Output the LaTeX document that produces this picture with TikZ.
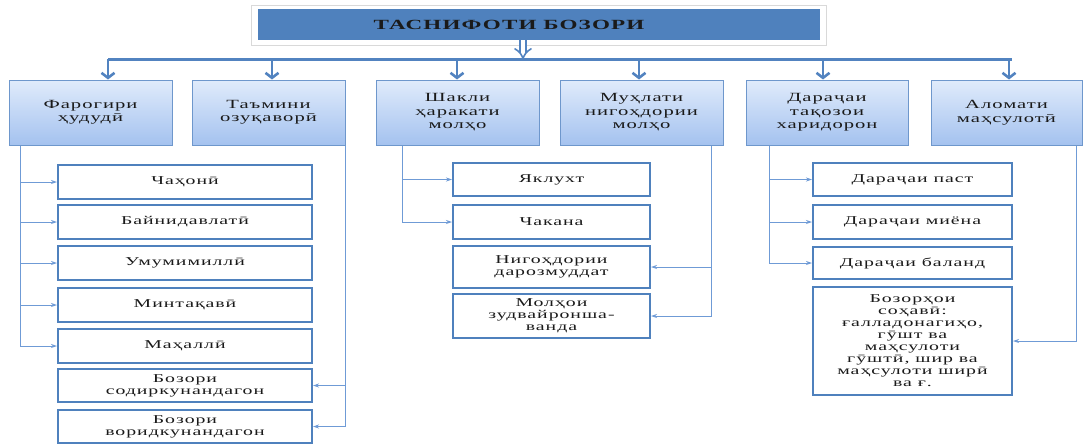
\documentclass[tikz,border=0pt]{standalone}
\usepackage{fontspec}
\setmainfont{Liberation Serif}
\newfontfamily\boxfont[FakeStretch=1.65,LetterSpace=8]{Liberation Serif}
\usetikzlibrary{arrows.meta,positioning}
\definecolor{Bar}{HTML}{5283C0}
\definecolor{Link}{HTML}{6F9BD6}
\definecolor{Edge}{HTML}{6E97CC}
\definecolor{TopHi}{HTML}{E0EBFB}
\definecolor{TopLo}{HTML}{A4C2EF}
\definecolor{Frame}{HTML}{4F81BD}
\definecolor{Ink}{HTML}{1A1A1A}
\tikzset{
  headbox/.style={draw=Edge,line width=1pt,top color=TopHi,bottom color=TopLo,
    minimum height=65pt,align=center,inner sep=1pt,text=Ink,
    font={\boxfont\fontsize{12.5}{13.5}\selectfont}},
  subbox/.style={draw=Frame,line width=2pt,fill=white,align=center,inner sep=1pt,
    text=Ink,font={\boxfont\fontsize{12}{12}\selectfont}},
  link/.style={draw=Link,line width=0.9pt,-{Stealth[length=6pt,width=4pt]}},
  drop/.style={draw=Bar,line width=2.6pt,-{Straight Barb[length=5pt,width=13pt]}}
}
\begin{document}
\begin{tikzpicture}[x=1pt,y=-1pt]
  \useasboundingbox (0,0) rectangle (1084,445);
  % title
  \draw[gray!30,fill=white] (251,5) rectangle (826,45);
  \node[fill=Frame,minimum width=562,minimum height=31,inner sep=0] (title) at (539,24.5) {};
  \node[font={\boxfont\bfseries\fontsize{14}{14}\selectfont},text=Ink] (titletxt) at (509,25) {ТАСНИФОТИ БОЗОРИ};
  \coordinate (barL) at (108,59);
  \coordinate (barR) at (1012,59);
  \draw[Bar,line width=3pt] (barL) -- (barR);
  \draw[draw=Bar,line width=1.6pt,double=white,double distance=4.5pt,-{Implies}] ([xshift=-16pt]title.south) -- ([xshift=-16pt,yshift=-1pt]title.south |- barL);
  % top row
  \foreach \n/\x/\w/\ax/\txt in {
    A/90.5/163/108/{Фарогири\\ҳудудӣ},
    B/268.5/153/272/{Таъмини\\озуқаворӣ},
    C/457.5/163/457/{Шакли\\ҳаракати\\молҳо},
    D/641.5/163/639/{Муҳлати\\нигоҳдории\\молҳо},
    E/827/162/823/{Дараҷаи\\тақозои\\харидорон},
    F/1006.5/151/1009/{Аломати\\маҳсулотӣ}} {
    \node[headbox,minimum width=\w] (t\n) at (\x,112.5) {\txt};
    \coordinate (b\n) at (\ax,59);
    \draw[drop] (b\n) -- (b\n |- t\n.north);
  }
  % left column
  \foreach \n/\y/\h/\txt in {
    1/182/34/{Чаҳонӣ},
    2/222/34/{Байнидавлатӣ},
    3/263/34/{Умумимиллӣ},
    4/305/34/{Минтақавӣ},
    5/346/34/{Маҳаллӣ},
    6/385.5/33/{Бозори\\содиркунандагон},
    7/426.5/33/{Бозори\\воридкунандагон}}
    \node[subbox,minimum width=254,minimum height=\h] (l\n) at (185,\y) {\txt};
  % middle column
  \foreach \n/\y/\h/\txt in {
    1/179.5/33/{Яклухт},
    2/222/34/{Чакана},
    3/267/42/{Нигоҳдории\\дарозмуддат},
    4/316/44/{Молҳои\\зудвайронша-\\ванда}}
    \node[subbox,minimum width=197,minimum height=\h] (m\n) at (551.5,\y) {\txt};
  % right column
  \foreach \n/\y/\h/\txt in {
    1/179.5/33/{Дараҷаи паст},
    2/222/34/{Дараҷаи миёна},
    3/263/32/{Дараҷаи баланд},
    4/341/108/{Бозорҳои\\соҳавӣ:\\ғалладонагиҳо,\\гӯшт ва\\маҳсулоти\\гӯштӣ, шир ва\\маҳсулоти ширӣ\\ва ғ.}}
    \node[subbox,minimum width=199,minimum height=\h] (r\n) at (912.5,\y) {\txt};
  % links
  \coordinate (lA) at ([xshift=12pt]tA.south west);
  \coordinate (lB) at (tB.south east);
  \coordinate (lC) at ([xshift=27pt]tC.south west);
  \coordinate (lD) at ([xshift=-12pt]tD.south east);
  \coordinate (lE) at ([xshift=24pt]tE.south west);
  \coordinate (lF) at ([xshift=-6pt]tF.south east);
  \foreach \n in {1,...,5} \draw[link] (lA) |- (l\n.west);
  \foreach \n in {6,7} \draw[link] (lB) |- (l\n.east);
  \foreach \n in {1,2} \draw[link] (lC) |- (m\n.west);
  \foreach \n in {3,4} \draw[link] (lD) |- (m\n.east);
  \foreach \n in {1,2,3} \draw[link] (lE) |- (r\n.west);
  \draw[link] (lF) |- (r4.east);
\end{tikzpicture}
\end{document}
